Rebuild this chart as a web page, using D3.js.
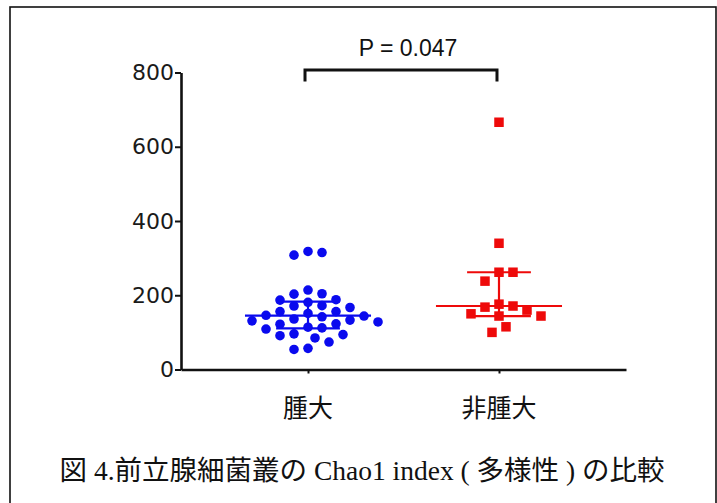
<!DOCTYPE html>
<html>
<head>
<meta charset="utf-8">
<script src="https://cdn.jsdelivr.net/npm/d3@7"></script>
<style>
  body { margin: 0; background: #fff; }
  svg { display: block; }
</style>
</head>
<body>
<div id="chart"></div>
<script>
// values (Chao1 index per sample)
var categories = ["腫大", "非腫大"];

var swollen = [315, 308, 318, 214, 203, 204, 187, 188, 181, 172, 171, 167, 156, 146, 142,
               136, 144, 151, 156, 131, 123, 133, 114, 109, 122, 128, 112, 94, 91, 96,
               85, 74, 54, 57];

var notSwollen = [666, 340, 262, 262, 238, 176, 168, 171, 160, 150, 144, 144, 115, 100];

// median and interquartile range as drawn
var medians = [145, 171];
var lowerQ = [111, 144];
var upperQ = [183, 262];

var yTicks = [0, 200, 400, 600, 800];
var pLabel = "P = 0.047";
var title = "図 4.前立腺細菌叢の Chao1 index ( 多様性 ) の比較";

var W = 717, H = 503;

var svg = d3.select("#chart").append("svg")
    .attr("width", W)
    .attr("height", H);

// outer frame (bottom edge runs off the picture)
svg.append("rect")
    .attr("x", 10).attr("y", 7)
    .attr("width", 706).attr("height", 520)
    .attr("fill", "none")
    .attr("stroke", "#111")
    .attr("stroke-width", 1.6);

var x = d3.scalePoint()
    .domain(categories)
    .range([181, 626])
    .padding(0.665);

var y = d3.scaleLinear()
    .domain([0, 800])
    .range([369.5, 72.5]);

var step = x.step();

// y axis
var yAxis = svg.append("g")
    .attr("transform", "translate(181,0)")
    .call(d3.axisLeft(y).tickValues(yTicks).tickSize(6).tickSizeOuter(0).tickPadding(1));
yAxis.select(".domain").attr("stroke", "#111").attr("stroke-width", 2.6);
yAxis.selectAll(".tick line").attr("stroke", "#111").attr("stroke-width", 2);
yAxis.selectAll(".tick text")
    .attr("font-family", "DejaVu Sans, Verdana, sans-serif")
    .attr("font-size", 22)
    .attr("fill", "#1a1a1a");

// x axis
var xAxis = svg.append("g")
    .attr("transform", "translate(0," + y(0) + ")")
    .call(d3.axisBottom(x).tickSize(4).tickSizeOuter(0).tickFormat(""));
xAxis.select(".domain").attr("stroke", "#111").attr("stroke-width", 2.6);
xAxis.selectAll(".tick line").attr("stroke", "#111").attr("stroke-width", 2);

svg.selectAll(".cat-label")
    .data(categories)
    .enter().append("text")
    .attr("class", "cat-label")
    .attr("x", function(d) { return x(d); })
    .attr("y", 417)
    .attr("text-anchor", "middle")
    .attr("font-family", "Noto Sans CJK JP, sans-serif")
    .attr("font-size", 25)
    .attr("fill", "#111")
    .text(function(d) { return d; });

// greedy swarm layout: highest values first, nudge sideways until free.
// collision is elliptical so points pack a bit tighter vertically
function swarm(vals, cx) {
    var gridStep = 7, rx = 13.5, ry = 11;
    var placed = [];
    var order = vals.map(function(v, i) { return i; })
        .sort(function(a, b) { return vals[b] - vals[a]; });
    order.forEach(function(i) {
        var py = y(vals[i]);
        for (var k = 0; k < 200; k++) {
            var off = k === 0 ? 0 : (k % 2 ? 1 : -1) * Math.ceil(k / 2) * gridStep;
            var px = cx + off;
            var free = placed.every(function(p) {
                var dx = (p.x - px) / rx, dy = (p.y - py) / ry;
                return dx * dx + dy * dy >= 1;
            });
            if (free) { placed.push({x: px, y: py, v: vals[i]}); break; }
        }
    });
    return placed;
}

var colors = ["#0a0aee", "#ee0a0a"];

// median / quartile lines
function drawSummary(i) {
    var cx = x(categories[i]);
    var g = svg.append("g")
        .attr("stroke", colors[i])
        .attr("stroke-width", 2.2);
    g.append("line")
        .attr("x1", cx - step * 0.33).attr("x2", cx + step * 0.33)
        .attr("y1", y(medians[i])).attr("y2", y(medians[i]));
    g.append("line")
        .attr("x1", cx - step * 0.167).attr("x2", cx + step * 0.167)
        .attr("y1", y(upperQ[i])).attr("y2", y(upperQ[i]));
    g.append("line")
        .attr("x1", cx - step * 0.167).attr("x2", cx + step * 0.167)
        .attr("y1", y(lowerQ[i])).attr("y2", y(lowerQ[i]));
    g.append("line")
        .attr("x1", cx).attr("x2", cx)
        .attr("y1", y(upperQ[i])).attr("y2", y(lowerQ[i]));
}
drawSummary(0);
drawSummary(1);

// blue circles
svg.append("g").selectAll("circle")
    .data(swarm(swollen, x(categories[0])))
    .enter().append("circle")
    .attr("cx", function(d) { return d.x; })
    .attr("cy", function(d) { return d.y; })
    .attr("r", 4.8)
    .attr("fill", colors[0]);

// red squares
var sq = 9.5;
svg.append("g").selectAll("rect")
    .data(swarm(notSwollen, x(categories[1])))
    .enter().append("rect")
    .attr("x", function(d) { return d.x - sq / 2; })
    .attr("y", function(d) { return d.y - sq / 2; })
    .attr("width", sq)
    .attr("height", sq)
    .attr("fill", colors[1]);

// significance bracket
var bx1 = x(categories[0]) - 3, bx2 = x(categories[1]) - 2;
var bTop = y(800) - 2.5, bLeg = bTop + 11.5;
svg.append("path")
    .attr("d", "M" + bx1 + "," + bLeg + "V" + bTop + "H" + bx2 + "V" + bLeg)
    .attr("fill", "none")
    .attr("stroke", "#111")
    .attr("stroke-width", 3);

svg.append("text")
    .attr("x", (bx1 + bx2) / 2 + 7)
    .attr("y", 55.5)
    .attr("text-anchor", "middle")
    .attr("font-family", "Liberation Sans, Arial, sans-serif")
    .attr("font-size", 23)
    .attr("fill", "#111")
    .text(pLabel);

svg.append("text")
    .attr("x", 362)
    .attr("y", 480)
    .attr("text-anchor", "middle")
    .attr("font-family", "Liberation Serif, Noto Sans CJK JP, serif")
    .attr("font-size", 27.5)
    .attr("fill", "#111")
    .text(title);
</script>
</body>
</html>
